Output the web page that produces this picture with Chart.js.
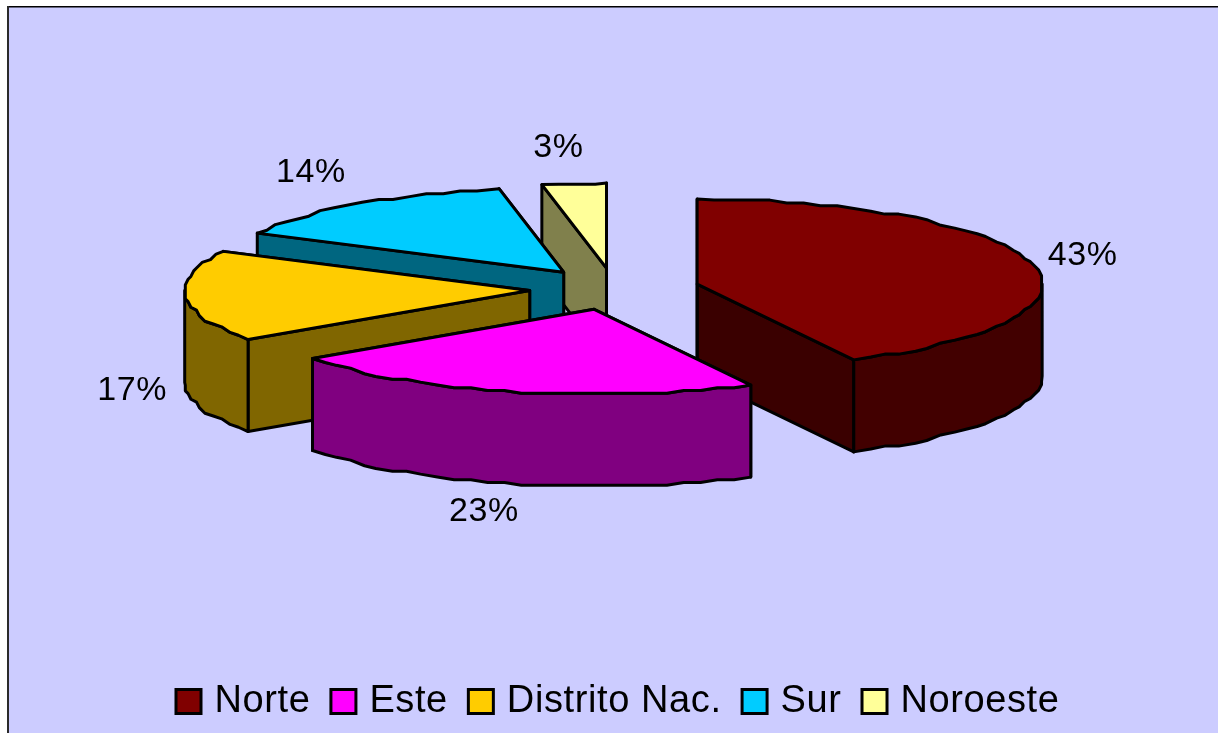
<!DOCTYPE html>
<html>
<head>
<meta charset="utf-8">
<style>
html,body{margin:0;padding:0;background:#fff;overflow:hidden;width:1218px;height:733px}
canvas{display:block}
</style>
<script src="https://cdn.jsdelivr.net/npm/chart.js@4/dist/chart.umd.min.js"></script>
</head>
<body>
<canvas id="c" width="1218" height="733"></canvas>
<script>
// --- data ---
const categories = ['Norte', 'Este', 'Distrito Nac.', 'Sur', 'Noroeste'];
const shares = [42.5, 22.7, 17.4, 14.4, 3.0];
const topColors = ['#800000', '#FF00FF', '#FFCC00', '#00CCFF', '#FFFF99'];
const rimColors = ['#420000', '#800080', '#806600', '#006680', '#80804C'];
const sideColors = ['#3A0000', '#800080', '#806600', '#006680', '#80804C'];

// --- drawing style ---
const FONT = '"Liberation Sans", Arial, sans-serif';
const centre = {x: 614.5, y: 289};  // where the pie centre sits on the page
const tilt = 0.2465;                // vertical squash of the pie plane
const depth = 92;                   // thickness of the slab
const paintOrder = [4, 3, 0, 2, 1];
const labelNudge = [[-3.5, 0], [-14.5, -6], [1.5, 0], [-13.5, -3], [-10.5, -1]];
const GRID = 2.8;

const quant = v => Math.round(v / GRID) * GRID;

function sliceGeometry(arc) {
  const p = arc.getProps(['x', 'y', 'startAngle', 'endAngle', 'outerRadius'], true);
  const mid = (p.startAngle + p.endAngle) / 2;
  const off = arc.options.offset || 0;
  const ax = centre.x + Math.cos(mid) * off;
  const ay = centre.y + Math.sin(mid) * off * tilt;
  const at = a => ({
    x: ax + Math.cos(a) * p.outerRadius,
    y: ay + Math.sin(a) * p.outerRadius * tilt
  });
  return {apex: {x: ax, y: ay}, at, start: p.startAngle, end: p.endAngle, mid, r: p.outerRadius};
}

// rim as a short-segment polyline snapped to a coarse grid, like the source's stepped outline
function rimPoints(g, from, to) {
  const pts = [g.at(from)];
  const step = Math.PI / 60;
  for (let a = from + step; a < to - step / 2; a += step) {
    const q = g.at(a);
    pts.push({x: quant(q.x - g.apex.x) + g.apex.x, y: quant(q.y - g.apex.y) + g.apex.y});
  }
  pts.push(g.at(to));
  return pts;
}

function poly(ctx, pts, fill) {
  ctx.beginPath();
  pts.forEach((q, i) => i ? ctx.lineTo(q.x, q.y) : ctx.moveTo(q.x, q.y));
  ctx.closePath();
  ctx.fillStyle = fill;
  ctx.fill();
  ctx.stroke();
}
const down = q => ({x: q.x, y: q.y + depth});

function drawSlice(ctx, arc, i) {
  const g = sliceGeometry(arc);
  const s = g.at(g.start), e = g.at(g.end);
  // radial walls
  poly(ctx, [g.apex, e, down(e), down(g.apex)], sideColors[i]);
  poly(ctx, [g.apex, s, down(s), down(g.apex)], sideColors[i]);
  // outer curved wall, only the part that faces the viewer
  const norm = a => { while (a < -Math.PI / 2) a += 2 * Math.PI; return a; };
  const from = Math.max(norm(g.start), 0), to = Math.min(norm(g.start) + (g.end - g.start), Math.PI);
  if (to > from) {
    const rim = rimPoints(g, from, to);
    poly(ctx, rim.concat(rim.map(down).reverse()), rimColors[i]);
  }
  // top face
  poly(ctx, [g.apex].concat(rimPoints(g, g.start, g.end)), topColors[i]);
}

const pie3d = {
  id: 'pie3d',
  beforeUpdate(chart) { chart.ctx.letterSpacing = '0.6px'; },
  beforeDraw(chart) {
    const ctx = chart.ctx;
    ctx.letterSpacing = '0.6px';
    ctx.save();
    ctx.fillStyle = '#FFFFFF';
    ctx.fillRect(0, 0, chart.width, chart.height);
    ctx.fillStyle = '#CCCCFF';
    ctx.fillRect(8, 6, chart.width, chart.height);
    ctx.fillStyle = '#000000';
    ctx.fillRect(8, 6, chart.width, 1.5);
    ctx.fillStyle = '#2a2a2a';
    ctx.fillRect(7, 6, 2, chart.height);
    ctx.restore();
  },
  beforeDatasetsDraw(chart) {
    const ctx = chart.ctx;
    const arcs = chart.getDatasetMeta(0).data;
    ctx.save();
    ctx.lineWidth = 3;
    ctx.lineJoin = 'round';
    ctx.strokeStyle = '#000000';
    paintOrder.forEach(i => drawSlice(ctx, arcs[i], i));
    ctx.restore();
    // percentage labels
    const total = shares.reduce((a, b) => a + b, 0);
    ctx.save();
    ctx.font = '34px ' + FONT;
    ctx.letterSpacing = '0.6px';
    ctx.fillStyle = '#000000';
    ctx.textAlign = 'center';
    ctx.textBaseline = 'middle';
    arcs.forEach((arc, i) => {
      const g = sliceGeometry(arc);
      const q = g.at(g.mid);
      const front = Math.sin(g.mid) > 0.05 || (Math.cos(g.mid) < -0.9);
      const x = q.x + Math.cos(g.mid) * 55 + labelNudge[i][0];
      const y = q.y + Math.sin(g.mid) * 35 + (front ? depth : 0) + labelNudge[i][1];
      ctx.fillText(Math.round(shares[i] / total * 100) + '%', x, y);
    });
    ctx.restore();
    return false;
  },
  afterDraw(chart) {
    const ctx = chart.ctx;
    ctx.save();
    ctx.lineWidth = 3;
    ctx.strokeStyle = '#000000';
    chart.legend.legendHitBoxes.forEach((h, i) => {
      const cy = h.top + h.height / 2;
      ctx.fillStyle = topColors[i];
      ctx.fillRect(h.left + 1.5, cy - 12, 25, 24);
      ctx.strokeRect(h.left + 1.5, cy - 12, 25, 24);
    });
    ctx.restore();
  }
};

new Chart(document.getElementById('c'), {
  type: 'pie',
  data: {
    labels: categories,
    datasets: [{
      data: shares,
      backgroundColor: topColors,
      borderColor: '#000000',
      borderWidth: 2,
      radius: 345,
      offset: 85
    }]
  },
  plugins: [pie3d],
  options: {
    responsive: false,
    animation: false,
    layout: {padding: {left: 16, bottom: 2.5}},
    plugins: {
      tooltip: {enabled: false},
      legend: {
        position: 'bottom',
        labels: {
          font: {family: FONT, size: 38},
          color: '#000000',
          boxWidth: 21,
          padding: 19,
          generateLabels(chart) {
            return chart.data.labels.map((text, i) => ({
              text, index: i, fillStyle: 'transparent', strokeStyle: 'transparent',
              lineWidth: 0, hidden: false
            }));
          }
        }
      }
    }
  }
});
</script>
</body>
</html>
